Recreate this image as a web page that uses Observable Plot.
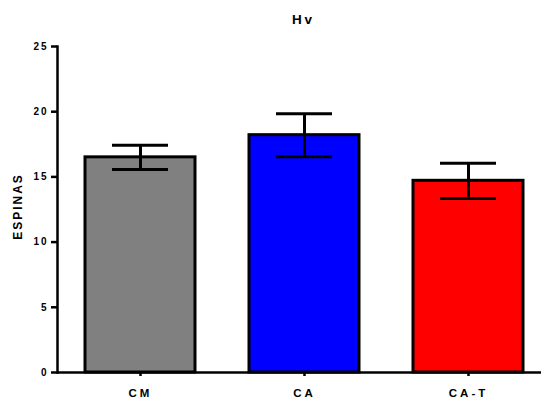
<!DOCTYPE html>
<html><head><meta charset="utf-8">
<script src="https://cdn.jsdelivr.net/npm/d3@7"></script>
<script src="https://cdn.jsdelivr.net/npm/@observablehq/plot@0.6"></script>
<style>
body{margin:0;background:#fff;}
svg{font-family:"Liberation Sans",Arial,sans-serif;}
</style></head>
<body><div id="chart"></div>
<script>
const categories = ["CM", "CA", "CA-T"];
const means = [16.5, 18.2, 14.7];
const errors = [0.93, 1.65, 1.35];
const colors = ["#808080", "#0000ff", "#ff0000"];
const yTicks = [0, 5, 10, 15, 20, 25];
const title = "Hv";
const yLabel = "ESPINAS";

const data = categories.map((c, i) => ({cat: c, mean: means[i], lo: means[i] - errors[i], hi: means[i] + errors[i], color: colors[i]}));

const chart = Plot.plot({
  width: 541, height: 398,
  marginTop: 46, marginBottom: 26, marginLeft: 57, marginRight: 0,
  style: {fontFamily: "'Liberation Sans', Arial, sans-serif", background: "#fff"},
  x: {domain: categories, range: [58, 550], paddingInner: 0.33, paddingOuter: 0.165},
  y: {domain: [0, 25]},
  marks: [
    Plot.barY(data, {x: "cat", y: "mean", fill: "color", stroke: "#000", strokeWidth: 3}),
    Plot.ruleX(data, {x: "cat", y1: "lo", y2: "hi", stroke: "#000", strokeWidth: 3}),
    Plot.tickY(data, {x: "cat", y: "lo", stroke: "#000", strokeWidth: 3, insetLeft: 27, insetRight: 27}),
    Plot.tickY(data, {x: "cat", y: "hi", stroke: "#000", strokeWidth: 3, insetLeft: 27, insetRight: 27}),
    Plot.ruleY([0], {stroke: "#000", strokeWidth: 2.5}),
    Plot.frame({anchor: "left", stroke: "#000", strokeWidth: 2.5}),
    Plot.axisY({ticks: yTicks, tickSize: 6, tickPadding: 3, tickFormat: d => d, fontSize: 10, fontWeight: "bold", fill: "#000", label: null, strokeWidth: 2.5, className: "yax"}),
    Plot.axisX({tickSize: 4, tickPadding: 12, fontSize: 11.5, fontWeight: "bold", label: null, strokeWidth: 2.5, className: "xax"}),
    Plot.text([title], {frameAnchor: "top", dy: -32, dx: 4, fontSize: 13.5, fontWeight: "bold", fill: "#000", className: "ttl"}),
    Plot.text([yLabel], {frameAnchor: "left", textAnchor: "middle", rotate: -90, dx: -39, dy: -3, fontSize: 12, fontWeight: "bold", fill: "#000"})
  ]
});
document.getElementById("chart").appendChild(chart);
chart.querySelectorAll("text").forEach(t => t.style.letterSpacing = "2px");
chart.querySelectorAll(".xax text, .ttl text").forEach(t => t.style.letterSpacing = "3px");
</script></body></html>
